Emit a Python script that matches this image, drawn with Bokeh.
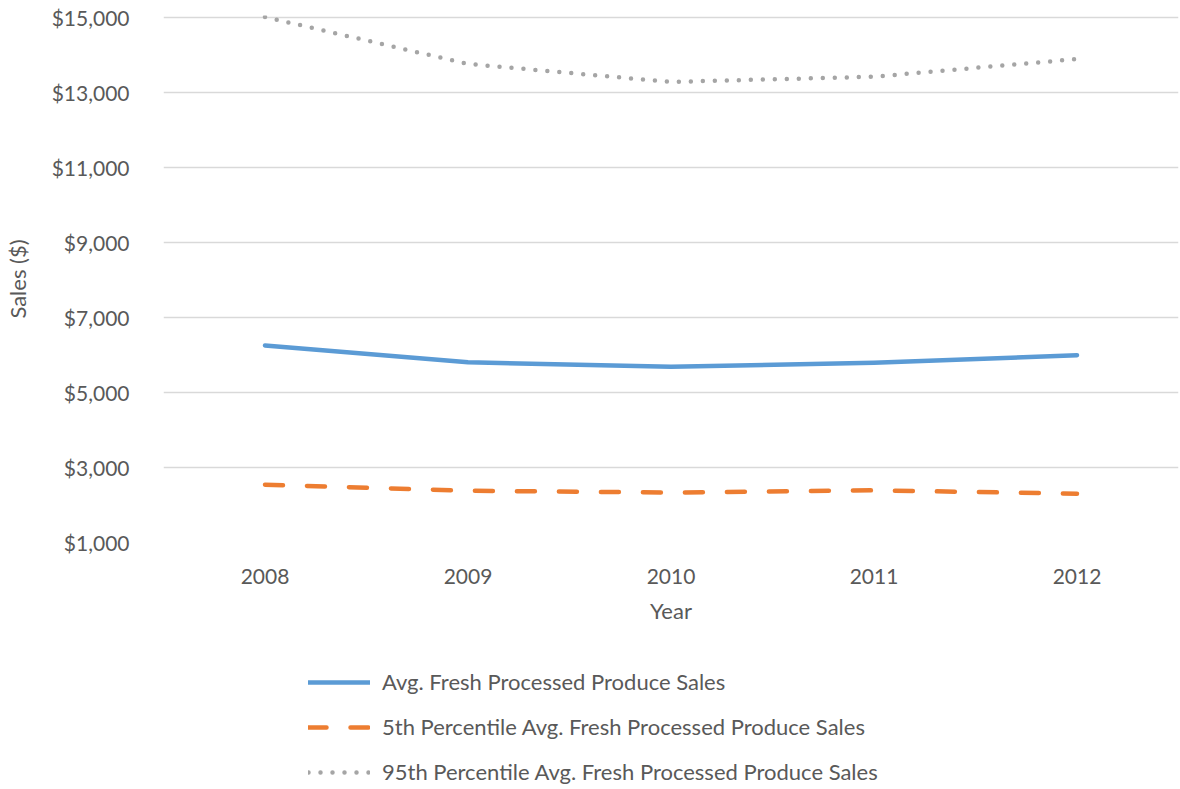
from bokeh.plotting import figure
from bokeh.layouts import column
from bokeh.models import (FixedTicker, NumeralTickFormatter, Legend, LegendItem,
                          Range1d, CustomJSTickFormatter)
from bokeh.embed import file_html
from bokeh.resources import INLINE

years = [2008, 2009, 2010, 2011, 2012]
avg_sales = [6250, 5800, 5680, 5790, 5990]
p5_sales = [2540, 2380, 2330, 2390, 2300]
p95_sales = [15000, 13750, 13270, 13410, 13880]
y_ticks = [1000, 3000, 5000, 7000, 9000, 11000, 13000, 15000]
series_names = [
    "Avg. Fresh Processed Produce Sales",
    "5th Percentile Avg. Fresh Processed Produce Sales",
    "95th Percentile Avg. Fresh Processed Produce Sales",
]

FONT = "Lato"
TEXT = "#595959"
COLORS = ["#5B9BD5", "#ED7D31", "#A5A5A5"]
DASHES = ["solid", "18 24", "0 12"]

p = figure(width=1180, height=640, output_backend="svg", toolbar_location=None,
           x_range=Range1d(2007.5, 2012.5), y_range=Range1d(1000, 15040),
           min_border_left=155, min_border_right=2, min_border_top=15,
           min_border_bottom=98)
p.outline_line_color = None

for vals, col, dash in zip([avg_sales, p5_sales, p95_sales], COLORS, DASHES):
    p.line(years, vals, line_color=col, line_width=4.5, line_cap="round",
           line_join="round", line_dash=dash)

# axes
p.xaxis.ticker = FixedTicker(ticks=years)
p.xaxis.formatter = CustomJSTickFormatter(code="return tick.toFixed(0);")
p.yaxis.ticker = FixedTicker(ticks=y_ticks)
p.yaxis.formatter = NumeralTickFormatter(format="$0,0")
for ax in (p.xaxis[0], p.yaxis[0]):
    ax.axis_line_color = None
    ax.major_tick_line_color = None
    ax.minor_tick_line_color = None
    ax.major_label_text_font = FONT
    ax.major_label_text_font_size = "21px"
    ax.major_label_text_color = TEXT
    ax.axis_label_text_font = FONT
    ax.axis_label_text_font_size = "22px"
    ax.axis_label_text_color = TEXT
    ax.axis_label_text_font_style = "normal"
p.xaxis.axis_label = "Year"
p.yaxis.axis_label = "Sales ($)"
p.xaxis.major_label_standoff = 20
p.yaxis.major_label_standoff = 28
p.xaxis.axis_label_standoff = 10
p.yaxis.axis_label_standoff = 18

p.xgrid.grid_line_color = None
p.ygrid.grid_line_color = "#D9D9D9"
p.ygrid.grid_line_width = 1.5

# legend strip under the chart (its frame lines up with the chart's frame)
leg = figure(width=1180, height=149, output_backend="svg", toolbar_location=None,
             x_range=Range1d(0, 1), y_range=Range1d(0, 1),
             min_border_left=155, min_border_right=2, min_border_top=0,
             min_border_bottom=0)
leg.axis.visible = False
leg.grid.grid_line_color = None
leg.outline_line_color = None
items = []
for name, col, dash in zip(series_names, COLORS, DASHES):
    # off-range points: these renderers only supply the legend swatches
    r = leg.line(x=[-10, -9], y=[-10, -9], line_color=col, line_width=4.5,
                 line_cap="round", line_dash=dash)
    items.append(LegendItem(label=name, renderers=[r]))
legend = Legend(items=items, location=(145, 4), orientation="vertical")
legend.glyph_width = 62
legend.glyph_height = 20
legend.label_height = 20
legend.label_standoff = 12
legend.spacing = 18
legend.padding = 0
legend.margin = 0
legend.border_line_color = None
legend.background_fill_alpha = 0
legend.label_text_font = FONT
legend.label_text_font_size = "22px"
legend.label_text_color = TEXT
leg.add_layout(legend, "center")

open("out.html", "w").write(file_html(column(p, leg, spacing=0), INLINE))
